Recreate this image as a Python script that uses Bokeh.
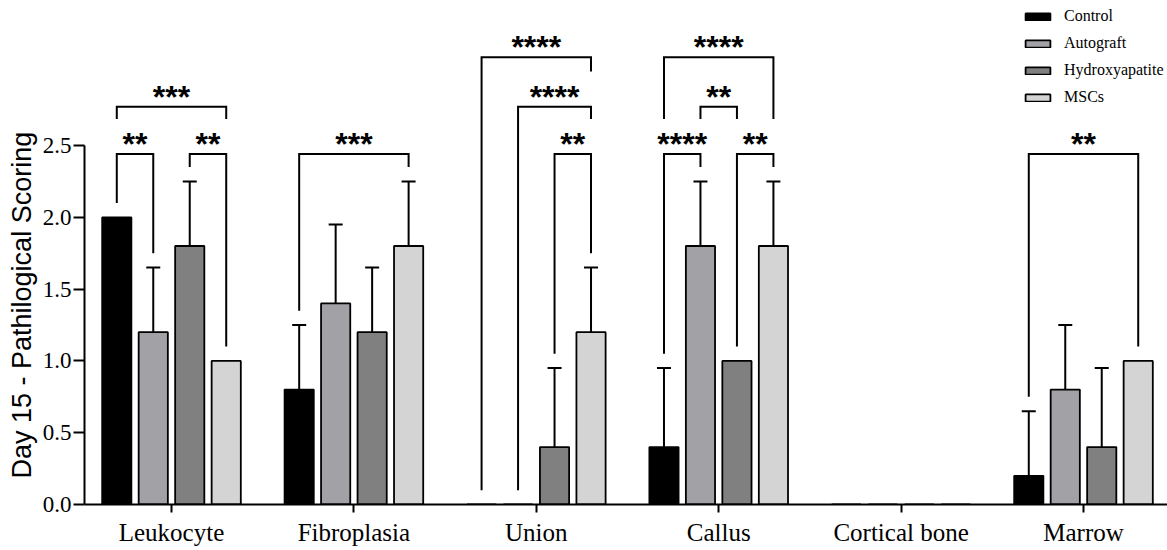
import numpy as np
from bokeh.plotting import figure
from bokeh.models import (Range1d, FixedTicker, ColumnDataSource, Whisker, TeeHead,
                          Legend, LegendItem, Title)
from bokeh.core.properties import value
from bokeh.embed import file_html
from bokeh.resources import INLINE

# ---------------- data ----------------
categories = ["Leukocyte", "Fibroplasia", "Union", "Callus", "Cortical bone", "Marrow"]
groups = ["Control", "Autograft", "Hydroxyapatite", "MSCs"]

control = [2.0, 0.8, 0.0, 0.4, 0.0, 0.2]
control_sd = [0.0, 0.45, 0.0, 0.55, 0.0, 0.45]
autograft = [1.2, 1.4, 0.0, 1.8, 0.0, 0.8]
autograft_sd = [0.45, 0.55, 0.0, 0.45, 0.0, 0.45]
hydroxyapatite = [1.8, 1.2, 0.4, 1.0, 0.0, 0.4]
hydroxyapatite_sd = [0.45, 0.45, 0.55, 0.0, 0.0, 0.55]
mscs = [1.0, 1.8, 1.2, 1.8, 0.0, 1.0]
mscs_sd = [0.0, 0.45, 0.45, 0.45, 0.0, 0.0]

y_ticks = [0.0, 0.5, 1.0, 1.5, 2.0, 2.5]
y_tick_labels = ["0.0", "0.5", "1.0", "1.5", "2.0", "2.5"]
y_title = "Day 15 - Pathilogical Scoring"

# significance comparisons: (category, group a, group b, stack level, label)
comparisons = [
    ("Leukocyte", "Control", "Autograft", 0, "**"),
    ("Leukocyte", "Hydroxyapatite", "MSCs", 0, "**"),
    ("Leukocyte", "Control", "MSCs", 1, "***"),
    ("Fibroplasia", "Control", "MSCs", 0, "***"),
    ("Union", "Hydroxyapatite", "MSCs", 0, "**"),
    ("Union", "Autograft", "MSCs", 1, "****"),
    ("Union", "Control", "MSCs", 2, "****"),
    ("Callus", "Control", "Autograft", 0, "****"),
    ("Callus", "Hydroxyapatite", "MSCs", 0, "**"),
    ("Callus", "Autograft", "Hydroxyapatite", 1, "**"),
    ("Callus", "Control", "MSCs", 2, "****"),
    ("Marrow", "Control", "MSCs", 0, "**"),
]

# ---------------- style ----------------
means = [control, autograft, hydroxyapatite, mscs]
sds = [control_sd, autograft_sd, hydroxyapatite_sd, mscs_sd]
colors = ["#000000", "#a2a2a6", "#808080", "#d4d4d4"]
offsets = [-0.3, -0.1, 0.1, 0.3]
bar_width = 0.16
level_y = [2.44, 2.77, 3.115]
leg_gap = 0.1
stack_gap = 0.245

W, H = 1167, 550
border_left, border_bottom = 84, 46
px_x = 182.4
px_y = 143.6
x_start = -(171 - border_left) / px_x
x_end = x_start + (W - border_left) / px_x
y_end = (H - border_bottom) / px_y

p = figure(width=W, height=H,
           x_range=Range1d(x_start, x_end),
           y_range=Range1d(0, y_end),
           output_backend="svg", toolbar_location=None,
           min_border_left=border_left, min_border_right=0,
           min_border_top=0, min_border_bottom=border_bottom)
p.outline_line_color = None
p.xgrid.visible = False
p.ygrid.visible = False
p.background_fill_color = "white"
p.border_fill_color = "white"

xs_base = np.arange(len(categories), dtype=float)

renderers = []
for gi, g in enumerate(groups):
    xpos = xs_base + offsets[gi]
    src = ColumnDataSource(dict(x=xpos, top=means[gi]))
    r = p.vbar(x="x", top="top", width=bar_width, bottom=0, source=src,
               fill_color=colors[gi], line_color="black", line_width=1.8)
    renderers.append(r)
    m = np.array(means[gi]); s = np.array(sds[gi])
    mask = s > 0
    wsrc = ColumnDataSource(dict(x=xpos[mask], lower=m[mask], upper=(m + s)[mask]))
    w = Whisker(base="x", lower="lower", upper="upper", source=wsrc,
                dimension="height", line_color="black", line_width=2,
                upper_head=TeeHead(size=14, line_width=2, line_color="black"),
                lower_head=None)
    p.add_layout(w)

# brackets
def top_of(ci, gi):
    return means[gi][ci] + sds[gi][ci]

bx, by, tx, ty, tt = [], [], [], [], []
for cat, ga, gb, lvl, lab in comparisons:
    ci = categories.index(cat)
    ia, ib = groups.index(ga), groups.index(gb)
    yl = level_y[lvl]
    ends = []
    for gi in (ia, ib):
        lower = [c[3] for c in comparisons
                 if c[0] == cat and c[3] < lvl and gi in (groups.index(c[1]), groups.index(c[2]))]
        if lower:
            ends.append(level_y[max(lower)] + stack_gap)
        else:
            ends.append(top_of(ci, gi) + leg_gap)
    xa = ci + offsets[ia]; xb = ci + offsets[ib]
    bx.append([xa, xa, xb, xb])
    by.append([ends[0], yl, yl, ends[1]])
    tx.append((xa + xb) / 2); ty.append(yl + 0.07); tt.append(lab)

p.multi_line(xs=bx, ys=by, line_color="black", line_width=2, line_join="miter")
p.text(x=tx, y=ty, text=tt, text_font=value("Liberation Sans"), text_font_style="bold",
       text_font_size="32px", text_align="center", text_baseline="alphabetic",
       text_color="black")

# axes
p.xaxis.ticker = FixedTicker(ticks=list(range(len(categories))))
p.xaxis.major_label_overrides = {i: c for i, c in enumerate(categories)}
p.xaxis.minor_tick_line_color = None
p.xaxis.axis_line_width = 2
p.xaxis.major_tick_line_width = 2
p.xaxis.major_tick_out = 8
p.xaxis.major_tick_in = 0
p.xaxis.major_label_standoff = 6
p.xaxis.major_label_text_font = "Liberation Serif"
p.xaxis.major_label_text_font_size = "25px"
p.xaxis.major_label_text_color = "black"

p.yaxis.ticker = FixedTicker(ticks=y_ticks)
p.yaxis.major_label_overrides = {t: l for t, l in zip(y_ticks, y_tick_labels)}
p.yaxis.bounds = (y_ticks[0], y_ticks[-1])
p.yaxis.minor_tick_line_color = None
p.yaxis.axis_line_width = 2
p.yaxis.major_tick_line_width = 2
p.yaxis.major_tick_out = 11
p.yaxis.major_tick_in = 0
p.yaxis.major_label_standoff = 2
p.yaxis.major_label_text_font = "Liberation Serif"
p.yaxis.major_label_text_font_size = "23px"
p.yaxis.major_label_text_color = "black"

p.add_layout(Title(text=y_title, align="left", offset=26, standoff=6,
                   text_font="Liberation Sans", text_font_size="27px",
                   text_font_style="normal", text_color="black"), "left")

legend = Legend(items=[LegendItem(label=g, renderers=[r]) for g, r in zip(groups, renderers)],
                location=(1022 - border_left, 398), glyph_width=31, glyph_height=9,
                label_standoff=11, spacing=9, padding=0, margin=0, label_height=18,
                border_line_alpha=0, background_fill_alpha=0,
                label_text_font="Liberation Serif", label_text_font_size="16px",
                label_text_color="black")
p.add_layout(legend)

open("out.html", "w").write(file_html(p, INLINE))
